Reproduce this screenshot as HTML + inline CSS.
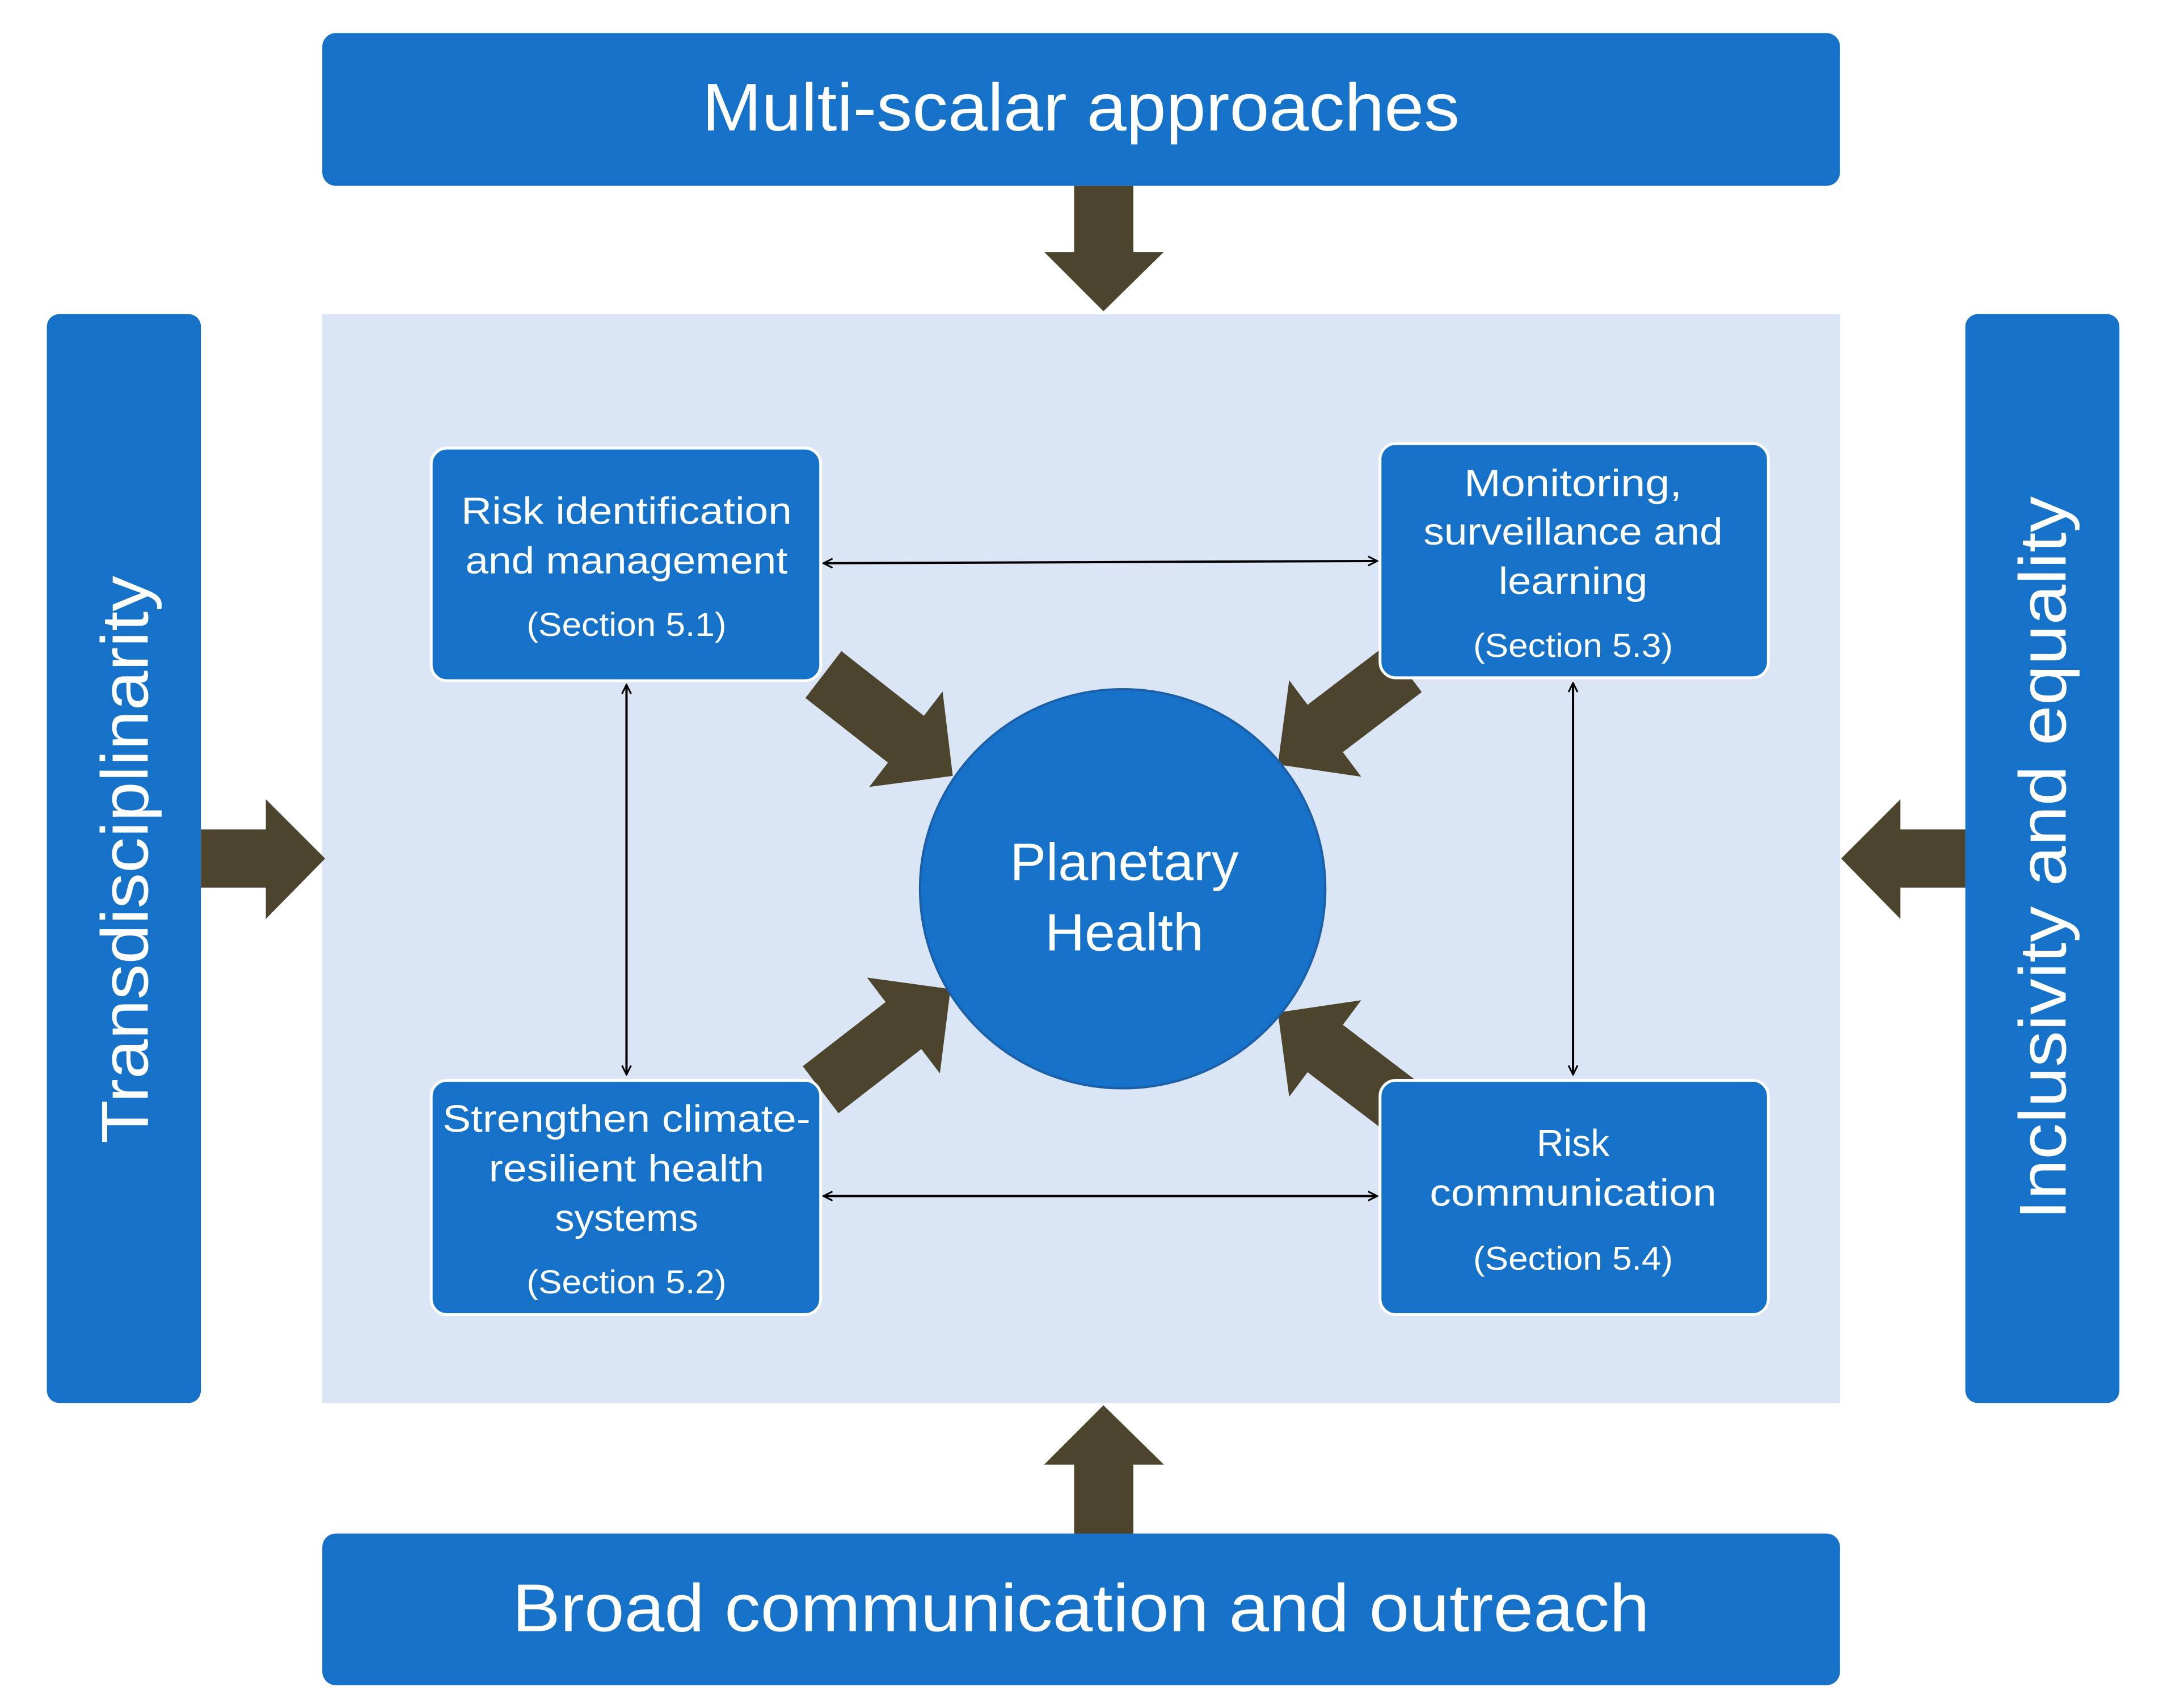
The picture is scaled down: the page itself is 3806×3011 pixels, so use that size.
<!DOCTYPE html>
<html><head><meta charset="utf-8"><style>html,body{margin:0;padding:0;background:#fff}svg{display:block}</style></head><body>
<svg width="3806" height="3011" viewBox="0 0 3806 3011" xmlns="http://www.w3.org/2000/svg" font-family="'Liberation Sans', sans-serif" fill="#fff">
<defs>
<marker id="ah" viewBox="0 0 20 20" refX="18" refY="10" markerWidth="20" markerHeight="20" markerUnits="userSpaceOnUse" orient="auto-start-reverse">
<path d="M2,2 L18,10 L2,18" fill="none" stroke="#000" stroke-width="3"/></marker>
</defs>
<rect x="0" y="0" width="3806" height="3011" fill="#fff"/>
<g transform="matrix(0.995 0 0 1.005 0 0)">
<rect x="571" y="551" width="2689" height="1910" fill="#dae5f5"/>
<rect x="571" y="58" width="2689" height="268" rx="24" fill="#1572c8"/>
<rect x="571" y="2690" width="2689" height="266" rx="24" fill="#1572c8"/>
<rect x="83" y="551" width="273" height="1910" rx="22" fill="#1572c8"/>
<rect x="3482" y="551" width="273" height="1910" rx="22" fill="#1572c8"/>
<g fill="#4c442c">
<polygon points="1903,326 2008,326 2008,442 2062,442 1955,546 1850,442 1903,442"/>
<polygon points="1903,2690 2008,2690 2008,2569 2062,2569 1955,2465 1850,2569 1903,2569"/>
<polygon points="356,1455 471,1455 471,1402 576,1506 471,1612 471,1557 356,1557"/>
<polygon points="3482,1455 3367,1455 3367,1402 3262,1506 3367,1612 3367,1557 3482,1557"/>
<polygon transform="translate(1688,1361) rotate(37.8)" points="-290,-52 -105,-52 -105,-106 0,0 -105,106 -105,52 -290,52"/>
<polygon transform="translate(2264,1341) rotate(143)" points="-280,-52 -105,-52 -105,-106 0,0 -105,106 -105,52 -280,52"/>
<polygon transform="translate(1684,1735) rotate(-37.5)" points="-290,-52 -105,-52 -105,-106 0,0 -105,106 -105,52 -290,52"/>
<polygon transform="translate(2264,1776) rotate(-143)" points="-280,-52 -105,-52 -105,-106 0,0 -105,106 -105,52 -280,52"/>
</g>
<g stroke="#000" stroke-width="4" marker-start="url(#ah)" marker-end="url(#ah)">
<line x1="1459" y1="988" x2="2440" y2="984"/>
<line x1="1459" y1="2098" x2="2440" y2="2098"/>
<line x1="1110" y1="1201" x2="1110" y2="1885"/>
<line x1="2787" y1="1198" x2="2787" y2="1885"/>
</g>
<g fill="#1572c8" stroke="#fff" stroke-width="5">
<rect x="764" y="786" width="690" height="408" rx="28"/>
<rect x="2445" y="778" width="688" height="411" rx="28"/>
<rect x="764" y="1895" width="690" height="411" rx="28"/>
<rect x="2445" y="1895" width="688" height="411" rx="28"/>
</g>
<ellipse cx="1989" cy="1559" rx="359" ry="350" fill="#1572c8" stroke="#1a5fa8" stroke-width="4"/>
<g text-anchor="middle" dominant-baseline="central">
<text x="1915" y="189" font-size="118" textLength="1342" lengthAdjust="spacingAndGlyphs">Multi-scalar approaches</text>
<text x="1915" y="2821" font-size="118" textLength="2015" lengthAdjust="spacingAndGlyphs">Broad communication and outreach</text>
<text transform="translate(222,1508) rotate(-90)" font-size="118" textLength="996" lengthAdjust="spacingAndGlyphs">Transdisciplinarity</text>
<text transform="translate(3620,1505) rotate(-90)" font-size="118" textLength="1269" lengthAdjust="spacingAndGlyphs">Inclusivity and equality</text>
<text x="1992" y="1513" font-size="92" textLength="405" lengthAdjust="spacingAndGlyphs">Planetary</text>
<text x="1992" y="1636" font-size="92" textLength="281" lengthAdjust="spacingAndGlyphs">Health</text>
<text x="1110" y="896" font-size="66" textLength="586" lengthAdjust="spacingAndGlyphs">Risk identification</text>
<text x="1110" y="983" font-size="66" textLength="571" lengthAdjust="spacingAndGlyphs">and management</text>
<text x="1110" y="1096" font-size="58" textLength="354" lengthAdjust="spacingAndGlyphs">(Section 5.1)</text>
<text x="2787" y="847" font-size="66" textLength="386" lengthAdjust="spacingAndGlyphs">Monitoring,</text>
<text x="2787" y="932" font-size="66" textLength="530" lengthAdjust="spacingAndGlyphs">surveillance and</text>
<text x="2787" y="1019" font-size="66" textLength="264" lengthAdjust="spacingAndGlyphs">learning</text>
<text x="2787" y="1133" font-size="58" textLength="354" lengthAdjust="spacingAndGlyphs">(Section 5.3)</text>
<text x="1110" y="1962" font-size="66" textLength="652" lengthAdjust="spacingAndGlyphs">Strengthen climate-</text>
<text x="1110" y="2049" font-size="66" textLength="488" lengthAdjust="spacingAndGlyphs">resilient health</text>
<text x="1110" y="2136" font-size="66" textLength="254" lengthAdjust="spacingAndGlyphs">systems</text>
<text x="1110" y="2249" font-size="58" textLength="354" lengthAdjust="spacingAndGlyphs">(Section 5.2)</text>
<text x="2787" y="2005" font-size="66" textLength="129" lengthAdjust="spacingAndGlyphs">Risk</text>
<text x="2787" y="2092" font-size="66" textLength="508" lengthAdjust="spacingAndGlyphs">communication</text>
<text x="2787" y="2208" font-size="58" textLength="354" lengthAdjust="spacingAndGlyphs">(Section 5.4)</text>
</g>
</g>
</svg>
</body></html>
